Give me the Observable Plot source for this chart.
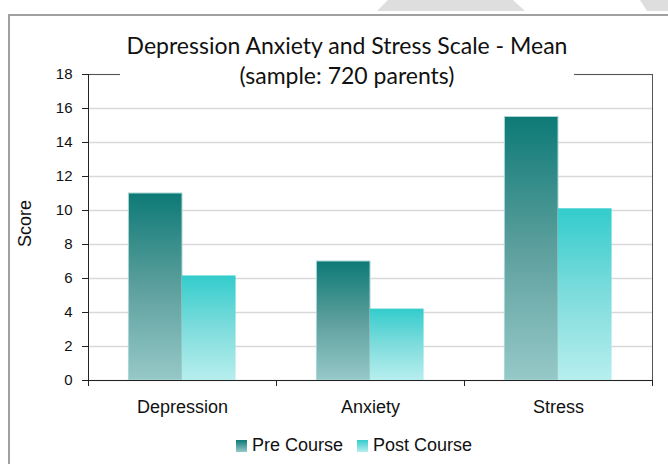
<!DOCTYPE html>
<html>
<head>
<meta charset="utf-8">
<script src="https://cdn.jsdelivr.net/npm/d3@7"></script>
<script src="https://cdn.jsdelivr.net/npm/@observablehq/plot@0.6"></script>
<style>
  html, body { margin: 0; padding: 0; background: #fff; }
  #wrap { position: relative; width: 668px; height: 464px; overflow: hidden; background: #fff; }
  .deco { position: absolute; background: #dedede; }
  #frameLine { position: absolute; left: 8px; top: 14px; width: 700px; height: 500px;
    border-top: 2px solid #a0a0a0; border-left: 2px solid #a0a0a0; box-sizing: border-box; }
  #chart { position: absolute; left: 0; top: 0; }
  #title { position: absolute; left: 120px; top: 30px; width: 454px; background: #fff;
    font-family: Lato, "Open Sans", sans-serif; font-size: 23px; line-height: 30px;
    color: #111; text-align: center; }
  #legend { position: absolute; left: 236px; top: 435px; display: flex; align-items: center;
    font-family: "Liberation Sans", Arial, sans-serif; font-size: 18px; color: #111; }
  .sw { width: 11px; height: 12px; display: inline-block; margin-right: 5px; }
  .item { display: flex; align-items: center; margin-right: 14px; }
</style>
</head>
<body>
<div id="wrap">
  <div class="deco" style="left:0;top:0;width:668px;height:11px;clip-path:polygon(388px 0,513px 0,525px 11px,377px 11px);"></div>
  <div class="deco" style="left:0;top:0;width:668px;height:11px;clip-path:polygon(640px 0,668px 0,668px 11px,647px 11px);"></div>
  <div id="frameLine"></div>
  <div id="chart"></div>
  <div id="title"></div>
  <div id="legend"></div>
</div>
<script>
// ---- data ----
const categories = ["Depression", "Anxiety", "Stress"];
const seriesNames = ["Pre Course", "Post Course"];
const preCourse = [11.0, 7.0, 15.5];
const postCourse = [6.15, 4.2, 10.1];
const yTicks = [0, 2, 4, 6, 8, 10, 12, 14, 16, 18];
const titleLines = ["Depression Anxiety and Stress Scale - Mean", "(sample: 720 parents)"];
const yLabel = "Score";

// ---- style ----
const barFrac = 0.285; // bar width as a fraction of a category band
const preColors = ["#0d7a76", "#5c9f9d", "#96c9c8"];
const postColors = ["#33cccc", "#7edcdc", "#b7eeee"];

const rows = [];
categories.forEach((c, i) => {
  rows.push({cat: c, idx: i, series: seriesNames[0], value: preCourse[i]});
  rows.push({cat: c, idx: i, series: seriesNames[1], value: postCourse[i]});
});
const preRows = rows.filter(d => d.series === seriesNames[0]);
const postRows = rows.filter(d => d.series === seriesNames[1]);

const font = "'Liberation Sans', Arial, sans-serif";

const chart = Plot.plot({
  width: 668,
  height: 464,
  marginLeft: 88,
  marginRight: 16,
  marginTop: 74,
  marginBottom: 84,
  style: {fontFamily: font, color: "#111", background: "transparent"},
  x: {domain: [0, categories.length], axis: null, label: null},
  y: {domain: [0, 18], axis: null, label: null},
  marks: [
    Plot.gridY(yTicks, {stroke: "#d9d9d9", strokeOpacity: 1, strokeWidth: 1.5}),
    Plot.rectY(preRows, {
      x1: d => d.idx + 0.5 - barFrac, x2: d => d.idx + 0.5, y1: 0, y2: "value",
      fill: "url(#gPre)", stroke: "#a9d6d5", strokeWidth: 1
    }),
    Plot.rectY(postRows, {
      x1: d => d.idx + 0.5, x2: d => d.idx + 0.5 + barFrac, y1: 0, y2: "value",
      fill: "url(#gPost)"
    }),
    Plot.frame({stroke: "#555"}),
    Plot.ruleX([0], {stroke: "#222"}),
    Plot.ruleY([0], {stroke: "#222"}),
    Plot.axisY(yTicks, {tickSize: 6, tickPadding: 10, fontSize: 15, stroke: "#222",
      label: null, tickFormat: d => String(d)}),
    Plot.axisX(d3.range(categories.length + 1), {tickSize: 6, stroke: "#222",
      label: null, tickFormat: () => ""}),
    Plot.axisX(categories.map((c, i) => i + 0.5), {tickSize: 0, tickPadding: 20, fontSize: 18,
      label: null, tickFormat: d => categories[Math.floor(d)]}),
    Plot.text([yLabel], {frameAnchor: "left", textAnchor: "middle", rotate: -90, dx: -63, dy: -4,
      fontSize: 18, fill: "#111"})
  ]
});

// gradients
const svg = d3.select(chart);
const defs = svg.insert("defs", ":first-child");
function grad(id, colors) {
  const g = defs.append("linearGradient").attr("id", id)
    .attr("x1", 0).attr("y1", 0).attr("x2", 0).attr("y2", 1);
  colors.forEach((c, i) => g.append("stop")
    .attr("offset", i / (colors.length - 1)).attr("stop-color", c));
}
grad("gPre", preColors);
grad("gPost", postColors);

document.getElementById("chart").appendChild(chart);

// title
const t = document.getElementById("title");
titleLines.forEach(line => { const d = document.createElement("div"); d.textContent = line; t.appendChild(d); });

// legend
const lg = document.getElementById("legend");
[[seriesNames[0], preColors], [seriesNames[1], postColors]].forEach(([name, cols]) => {
  const it = document.createElement("div"); it.className = "item";
  const sw = document.createElement("span"); sw.className = "sw";
  sw.style.background = `linear-gradient(${cols[0]}, ${cols[cols.length - 1]})`;
  const tx = document.createElement("span"); tx.textContent = name;
  it.appendChild(sw); it.appendChild(tx); lg.appendChild(it);
});
</script>
</body>
</html>
